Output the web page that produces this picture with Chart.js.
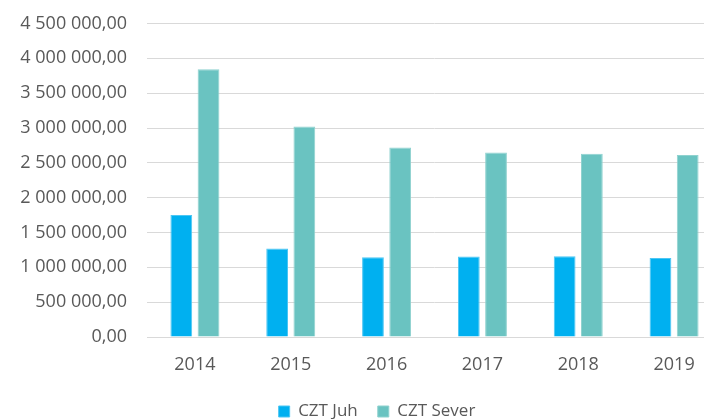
<!DOCTYPE html>
<html>
<head>
<meta charset="utf-8">
<script src="https://cdn.jsdelivr.net/npm/chart.js@4/dist/chart.umd.min.js"></script>
<style>
  html, body { margin: 0; padding: 0; background: #fff; overflow: hidden; }
  #wrap { position: relative; width: 704px; height: 419px; overflow: hidden; }
  #box { position: absolute; left: 0; top: 0; width: 758px; height: 430px; }
</style>
</head>
<body>
<div id="wrap"><div id="box"><canvas id="czt-chart"></canvas></div></div>
<script>
const years = ['2014', '2015', '2016', '2017', '2018', '2019'];
const cztJuh = [1750000, 1270000, 1145000, 1155000, 1160000, 1135000];
const cztSever = [3845000, 3020000, 2720000, 2650000, 2630000, 2612000];

const fmt = (v) => {
    const parts = v.toFixed(2).split('.');
    return parts[0].replace(/\B(?=(\d{3})+(?!\d))/g, ' ') + ',' + parts[1];
};

const FONT = "'Open Sans', 'Noto Sans', sans-serif";
const GREY = '#595959';

// the legend sits centred under the whole (wider) chart, nudge it right
const shiftLegend = {
    id: 'shiftLegend',
    afterLayout(chart) {
        chart.legend.left += 16;
        chart.legend.right += 16;
    },
};

new Chart(document.getElementById('czt-chart').getContext('2d'), {
    type: 'bar',
    data: {
        labels: years,
        datasets: [{
            label: 'CZT Juh',
            data: cztJuh,
            backgroundColor: '#00B0F0',
            borderColor: '#4CC6F3',
            borderWidth: 1,
        }, {
            label: 'CZT Sever',
            data: cztSever,
            backgroundColor: '#6AC3C1',
            borderColor: '#8FD2CF',
            borderWidth: 1,
        }],
    },
    plugins: [shiftLegend],
    options: {
        responsive: true,
        maintainAspectRatio: false,
        animation: false,
        categoryPercentage: 0.568,
        barPercentage: 0.8,
        layout: { padding: { top: 23.5, left: 0, right: 36, bottom: 0 } },
        plugins: {
            tooltip: { enabled: false },
            legend: {
                position: 'bottom',
                labels: {
                    boxWidth: 11,
                    boxHeight: 11,
                    padding: 20,
                    color: GREY,
                    font: { family: FONT, size: 17 },
                },
            },
        },
        scales: {
            x: {
                grid: { display: false, drawTicks: false },
                border: { color: '#D9D9D9', width: 1 },
                ticks: { color: GREY, padding: 17, font: { family: FONT, size: 18 } },
                afterFit: (scale) => { scale.height = 46; },
            },
            y: {
                min: 0,
                max: 4500000,
                border: { display: false },
                grid: { color: '#D9D9D9', lineWidth: 1, drawTicks: false },
                ticks: {
                    stepSize: 500000,
                    color: GREY,
                    padding: 20,
                    font: { family: FONT, size: 18 },
                    callback: (v) => fmt(v),
                },
                afterFit: (scale) => {
                    scale.width = 147;
                    scale.paddingTop = 0;
                    scale.paddingBottom = 0;
                },
            },
        },
    },
});
</script>
</body>
</html>
